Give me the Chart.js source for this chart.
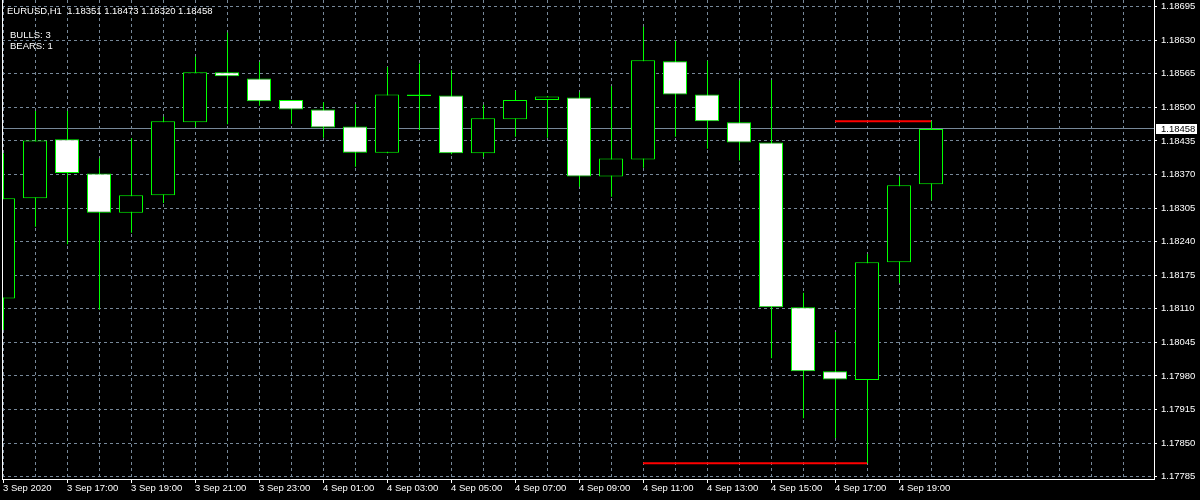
<!DOCTYPE html>
<html>
<head>
<meta charset="utf-8">
<script src="https://cdn.jsdelivr.net/npm/chart.js@4.4.1/dist/chart.umd.min.js"></script>
<style>
html,body{margin:0;padding:0;background:#000;overflow:hidden}
canvas{display:block}
</style>
</head>
<body>
<canvas id="c" width="1200" height="500"></canvas>
<script>
// ---- data (EURUSD H1, 3 Sep 2020 15:00 .. 4 Sep 2020 20:00) ----
const opens  = [1.18130,1.18324,1.18438,1.18372,1.18296,1.18330,1.18471,1.18568,1.18556,1.18514,
                1.18496,1.18463,1.18412,1.18522,1.18523,1.18411,1.18477,1.18514,1.18519,1.18366,
                1.18399,1.18589,1.18525,1.18471,1.18432,1.18113,1.17989,1.17972,1.18200,1.18351];
const highs  = [1.18411,1.18493,1.18493,1.18401,1.18440,1.18482,1.18598,1.18645,1.18588,1.18514,
                1.18510,1.18506,1.18578,1.18585,1.18572,1.18505,1.18532,1.18522,1.18529,1.18541,
                1.18656,1.18629,1.18590,1.18552,1.18553,1.18141,1.18065,1.18216,1.18366,1.18473];
const lows   = [1.18069,1.18269,1.18235,1.18108,1.18257,1.18315,1.18462,1.18467,1.18503,1.18468,
                1.18441,1.18385,1.18411,1.18456,1.18409,1.18404,1.18443,1.18441,1.18346,1.18327,
                1.18383,1.18443,1.18420,1.18397,1.18014,1.17898,1.17860,1.17811,1.18160,1.18320];
const closes = [1.18324,1.18436,1.18373,1.18296,1.18330,1.18473,1.18568,1.18560,1.18512,1.18496,
                1.18461,1.18412,1.18525,1.18525,1.18411,1.18479,1.18514,1.18521,1.18366,1.18401,
                1.18591,1.18525,1.18473,1.18432,1.18113,1.17989,1.17973,1.18200,1.18349,1.18458];

// horizontal level segments (red)
const highLevelBars = [26, 29];
const highLevelPrice = 1.18473;
const lowLevelBars = [20, 27];
const lowLevelPrice = 1.17811;

// axis tick labels
const xTickLabels = ['3 Sep 2020','3 Sep 17:00','3 Sep 19:00','3 Sep 21:00','3 Sep 23:00',
                     '4 Sep 01:00','4 Sep 03:00','4 Sep 05:00','4 Sep 07:00','4 Sep 09:00',
                     '4 Sep 11:00','4 Sep 13:00','4 Sep 15:00','4 Sep 17:00','4 Sep 19:00'];
const yTicks = [1.17785,1.17850,1.17915,1.17980,1.18045,1.18110,1.18175,1.18240,
                1.18305,1.18370,1.18435,1.18500,1.18565,1.18630,1.18695];

const symbolName = 'EURUSD,H1';
const statsLines = ['BULLS: 3', 'BEARS: 1'];

// ---- presentation ----
const FONT_FAMILY = "'Liberation Sans', Arial, sans-serif";
const FONT_SIZE = 9.5;
const GRID = '#778899';
const GREEN = '#00ff00';
const SLOTS = 36;                 // visible bar slots
const X_MIN = -1/32, X_MAX = SLOTS - 1/32;
const HALF = 0.5/32;
const Y_MIN = 1.177804, Y_MAX = 1.187078;

const n = opens.length;
const last = n - 1;
const bidPrice = closes[last];
const headerText = symbolName + '  ' + [opens[last], highs[last], lows[last], closes[last]].map(v => v.toFixed(5)).join(' ');
const gridIdx = Array.from({length: SLOTS}, (_, i) => i);
const xLabelFor = v => (v % 2 === 0 && v / 2 < xTickLabels.length) ? xTickLabels[v / 2] : '';

Chart.defaults.font.family = FONT_FAMILY;
Chart.defaults.font.size = FONT_SIZE;

const overlay = {
  id: 'overlay',
  beforeDatasetsDraw(chart) {
    const {ctx, chartArea: a, scales: {y}} = chart;
    const py = Math.round(y.getPixelForValue(bidPrice)) - 0.5;
    ctx.save();
    ctx.strokeStyle = GRID; ctx.lineWidth = 1;
    ctx.beginPath(); ctx.moveTo(a.left, py); ctx.lineTo(a.right, py); ctx.stroke();
    ctx.restore();
  },
  afterDraw(chart) {
    const {ctx, chartArea: a, scales: {y}} = chart;
    ctx.save();
    // left frame line
    ctx.strokeStyle = '#ffffff'; ctx.lineWidth = 1;
    ctx.beginPath(); ctx.moveTo(a.left + 0.5, a.top); ctx.lineTo(a.left + 0.5, a.bottom + 1); ctx.stroke();
    // bid price label on axis
    const py = Math.round(y.getPixelForValue(bidPrice));
    ctx.fillStyle = '#ffffff';
    ctx.fillRect(a.right + 2, py - 5, 41, 10);
    ctx.font = FONT_SIZE + 'px ' + FONT_FAMILY;
    ctx.textBaseline = 'middle';
    ctx.textAlign = 'left';
    ctx.fillStyle = '#000000';
    ctx.fillText(bidPrice.toFixed(5), a.right + 7, py);
    // header and stats
    ctx.fillStyle = '#ffffff';
    ctx.fillText(headerText, 7, 11);
    ctx.fillText(statsLines[0], 10, 35);
    ctx.fillText(statsLines[1], 10, 46.5);
    ctx.restore();
  }
};

new Chart(document.getElementById('c'), {
  type: 'bar',
  data: {
    datasets: [
      {
        label: 'wicks', type: 'bar', xAxisID: 'x2', yAxisID: 'y',
        data: lows.map((l, i) => ({x: i, y: [l, highs[i]]})),
        backgroundColor: GREEN, borderWidth: 0, barThickness: 1,
        inflateAmount: 0, grouped: false, order: 2, clip: 0
      },
      {
        label: 'bodies', type: 'bar', xAxisID: 'x', yAxisID: 'y',
        data: opens.map((o, i) => ({x: i, y: [o, closes[i]]})),
        backgroundColor: opens.map((o, i) => closes[i] >= o ? '#000000' : '#ffffff'),
        borderColor: GREEN, borderWidth: 1, borderSkipped: false,
        barThickness: 24, inflateAmount: 0, grouped: false, order: 1, clip: 0
      },
      {
        label: 'high level', type: 'line', xAxisID: 'x', yAxisID: 'y',
        data: highLevelBars.map(b => ({x: b, y: highLevelPrice})),
        borderColor: '#ff0000', borderWidth: 2, pointRadius: 0, order: 0, clip: 0
      },
      {
        label: 'low level', type: 'line', xAxisID: 'x', yAxisID: 'y',
        data: lowLevelBars.map(b => ({x: b, y: lowLevelPrice})),
        borderColor: '#ff0000', borderWidth: 2, pointRadius: 0, order: 0, clip: 0
      }
    ]
  },
  options: {
    responsive: false,
    animation: false,
    devicePixelRatio: 1,
    layout: {padding: {left: 2, top: 0, right: 0, bottom: 0}},
    plugins: {legend: {display: false}, tooltip: {enabled: false}, title: {display: false}},
    scales: {
      x: {
        type: 'linear', position: 'bottom', min: X_MIN, max: X_MAX, offset: false,
        grid: {
          offset: false, color: GRID, lineWidth: 1, drawTicks: true, tickLength: 4,
          tickColor: c => (c.tick && xLabelFor(c.tick.value)) ? '#ffffff' : 'rgba(0,0,0,0)'
        },
        border: {display: true, color: '#ffffff', width: 1, dash: [3, 3]},
        ticks: {
          autoSkip: false, maxRotation: 0, minRotation: 0, align: 'start', padding: 0,
          color: '#ffffff', callback: v => xLabelFor(v)
        },
        afterBuildTicks: s => { s.ticks = gridIdx.map(v => ({value: v})); },
        afterFit: s => { s.height = 21; s.paddingLeft = 0; s.paddingRight = 0; }
      },
      x2: {
        type: 'linear', display: false, min: X_MIN - HALF, max: X_MAX - HALF, offset: false,
        grid: {offset: false}
      },
      y: {
        type: 'linear', position: 'right', min: Y_MIN, max: Y_MAX, beginAtZero: false,
        grid: {color: GRID, lineWidth: 1, drawTicks: true, tickLength: 3, tickColor: '#ffffff'},
        border: {display: true, color: '#ffffff', width: 1, dash: [3, 3]},
        ticks: {autoSkip: false, padding: 4, color: '#ffffff', callback: v => Number(v).toFixed(5)},
        afterBuildTicks: s => { s.ticks = yTicks.map(v => ({value: v})); },
        afterFit: s => { s.width = 46; s.paddingTop = 0; s.paddingBottom = 0; }
      }
    }
  },
  plugins: [overlay]
});
</script>
</body>
</html>
